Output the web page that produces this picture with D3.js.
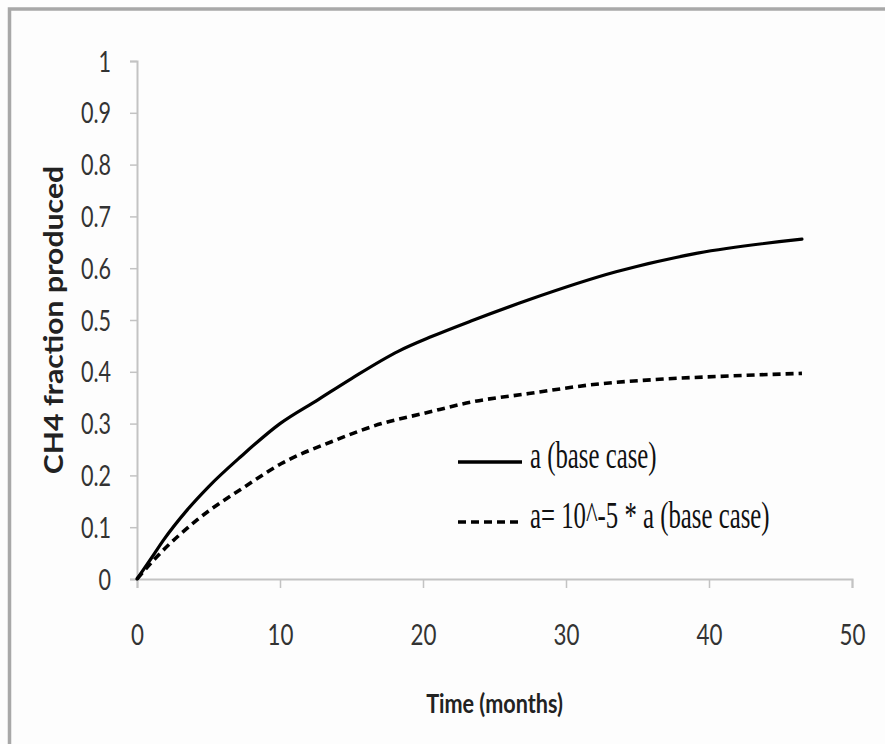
<!DOCTYPE html>
<html>
<head>
<meta charset="utf-8">
<script src="https://cdn.jsdelivr.net/npm/d3@7"></script>
<style>
  html, body { margin: 0; padding: 0; background: #fdfdfd; }
  svg { display: block; }
</style>
</head>
<body>
<svg id="chart" width="885" height="744"></svg>
<script>
// Time axis (months) and CH4 fraction produced for the two cases
const baseTime  = [0, 1, 1.85, 3.5, 5, 7.25, 10, 12.65, 15, 18.3, 20.6, 23.45, 27.4, 33.5, 39.2, 46.5];
const baseValue = [0, 0.04, 0.075, 0.133, 0.178, 0.236, 0.30, 0.346, 0.387, 0.44, 0.468, 0.499, 0.539, 0.593, 0.629, 0.656];

const lowTime  = [0, 1.39, 4.2, 7.7, 10.1, 13.6, 17.1, 20.1, 23.45, 27.4, 32.1, 36.8, 41.5, 46.5];
const lowValue = [0, 0.043, 0.114, 0.181, 0.223, 0.265, 0.30, 0.32, 0.342, 0.358, 0.376, 0.386, 0.392, 0.397];

const xTicks = [0, 10, 20, 30, 40, 50];
const yTicks = [0, 0.1, 0.2, 0.3, 0.4, 0.5, 0.6, 0.7, 0.8, 0.9, 1];

const seriesNames = ["a (base case)", "a= 10^-5 * a (base case)"];
const xTitle = "Time (months)";
const yTitle = "CH4 fraction produced";

const svg = d3.select("#chart");

// outer frame (open at the right and bottom edges)
svg.append("rect")
  .attr("x", 9.5).attr("y", 9)
  .attr("width", 900).attr("height", 760)
  .attr("fill", "#fdfdfd")
  .attr("stroke", "#a8a8a8")
  .attr("stroke-width", 3.5);

const x = d3.scaleLinear().domain([0, 50]).range([137, 852]);
const y = d3.scaleLinear().domain([0, 1]).range([579, 61]);

const axisColor = "#c3c3c3";
const tickFont = "Lato, 'Open Sans', sans-serif";

// y axis
const gy = svg.append("g")
  .attr("transform", `translate(${x(0)},0)`)
  .call(d3.axisLeft(y).tickValues(yTicks).tickSize(7).tickPadding(19)
    .tickFormat(d => d3.format("~g")(d)));
gy.select(".domain").attr("stroke", axisColor).attr("stroke-width", 2);
gy.selectAll(".tick line").attr("stroke", axisColor).attr("stroke-width", 1.5);
gy.selectAll(".tick text")
  .attr("font-family", tickFont)
  .attr("font-size", 28)
  .attr("fill", "#333")
  .attr("dy", "0.36em")
  .attr("transform", function () {
    const tx = +d3.select(this).attr("x");
    return `translate(${tx},0) scale(0.77,1) translate(${-tx},0)`;
  });

// x axis
const gx = svg.append("g")
  .attr("transform", `translate(0,${y(0)})`)
  .call(d3.axisBottom(x).tickValues(xTicks).tickSize(9).tickPadding(0)
    .tickFormat(d3.format("d")));
gx.select(".domain").attr("stroke", axisColor).attr("stroke-width", 2);
gx.selectAll(".tick line").attr("stroke", axisColor).attr("stroke-width", 1.5);
gx.selectAll(".tick text")
  .attr("font-family", tickFont)
  .attr("font-size", 29)
  .attr("fill", "#333")
  .attr("y", 0).attr("dy", 0)
  .attr("transform", "translate(0,66) scale(0.77,1)");

// axis titles
svg.append("text")
  .attr("transform", `translate(${x(25)},713) scale(0.8,1)`)
  .attr("text-anchor", "middle")
  .attr("font-family", tickFont)
  .attr("font-weight", "bold")
  .attr("font-size", 27)
  .attr("fill", "#222")
  .text(xTitle);

svg.append("text")
  .attr("transform", `translate(63,${y(0.5)}) rotate(-90) scale(1.12,1)`)
  .attr("text-anchor", "middle")
  .attr("font-family", tickFont)
  .attr("font-weight", "bold")
  .attr("font-size", 27)
  .attr("fill", "#222")
  .text(yTitle);

// curves
const line = d3.line()
  .x(d => x(d[0]))
  .y(d => y(d[1]))
  .curve(d3.curveMonotoneX);

const baseData = baseTime.map((t, i) => [t, baseValue[i]]);
const lowData = lowTime.map((t, i) => [t, lowValue[i]]);

svg.append("path")
  .datum(baseData)
  .attr("d", line)
  .attr("fill", "none")
  .attr("stroke", "#000")
  .attr("stroke-width", 3.2)
  .attr("stroke-linecap", "round");

svg.append("path")
  .datum(lowData)
  .attr("d", line)
  .attr("fill", "none")
  .attr("stroke", "#000")
  .attr("stroke-width", 3.6)
  .attr("stroke-dasharray", "8,5");

// legend
const legend = svg.append("g");
const legendRows = [
  { name: seriesNames[0], dash: null, ly: 462 },
  { name: seriesNames[1], dash: "8,5", ly: 522 }
];
legendRows.forEach(r => {
  legend.append("line")
    .attr("x1", 458).attr("x2", 522)
    .attr("y1", r.ly).attr("y2", r.ly)
    .attr("stroke", "#000")
    .attr("stroke-width", r.dash ? 3.6 : 3.4)
    .attr("stroke-dasharray", r.dash);
  legend.append("text")
    .attr("transform", `translate(530,${r.ly + 6}) scale(0.67,1)`)
    .attr("font-family", "'Liberation Serif', 'DejaVu Serif', serif")
    .attr("font-size", 37)
    .attr("fill", "#111")
    .text(r.name);
});
</script>
</body>
</html>
